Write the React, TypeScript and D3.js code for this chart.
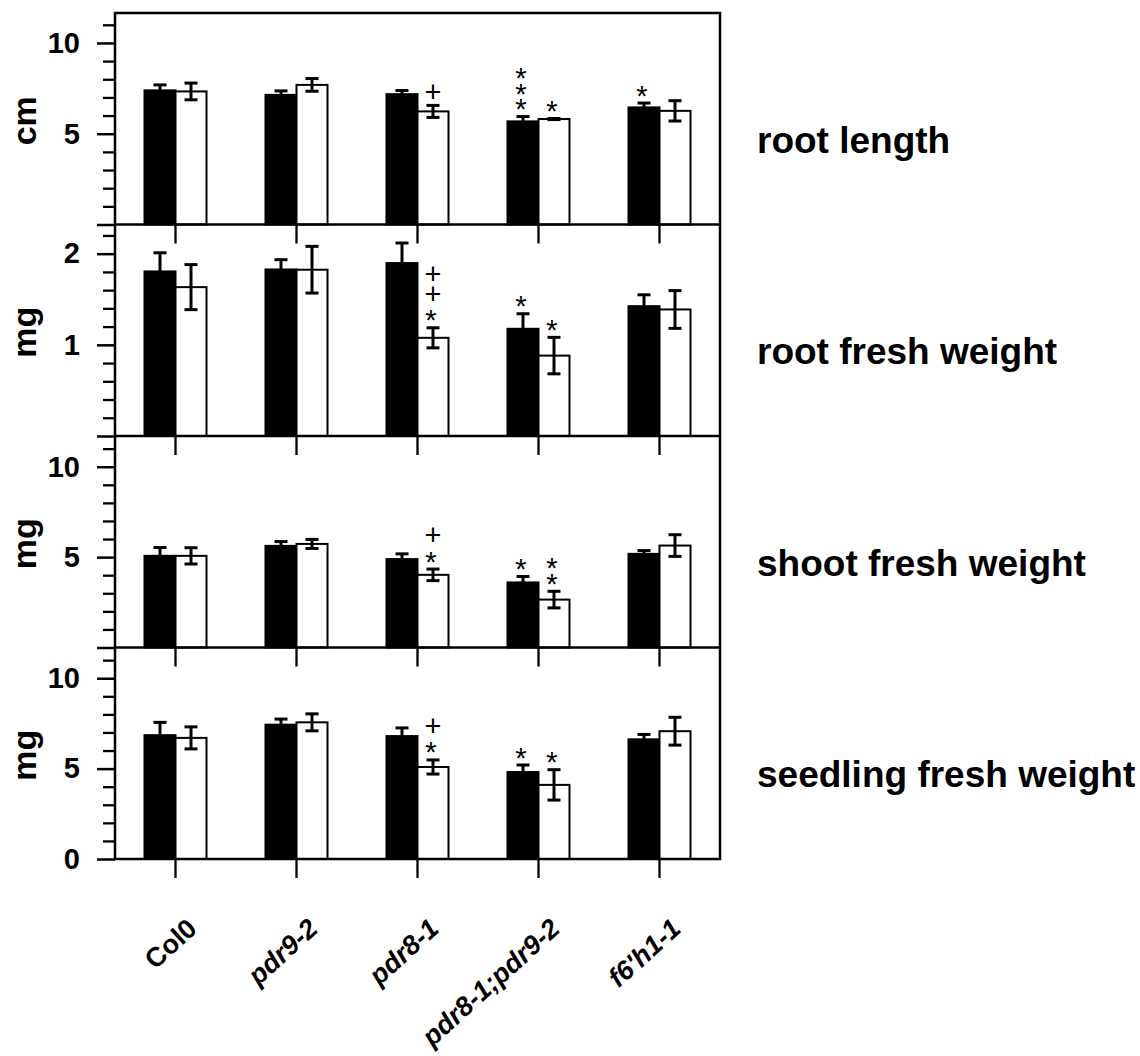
import React, { useEffect, useRef } from 'react';
import * as d3 from 'd3';

// genotypes along the x axis
const groups = ['Col0', 'pdr9-2', 'pdr8-1', 'pdr8-1;pdr9-2', "f6'h1-1"];

const panelTitles = ['root length', 'root fresh weight', 'shoot fresh weight', 'seedling fresh weight'];
const panelUnits = ['cm', 'mg', 'mg', 'mg'];
const panelMax = [11.65, 2.32, 11.7, 11.7];
const majorTicks = [[0, 5, 10], [0, 1, 2], [0, 5, 10], [0, 5, 10]];
const minorTicks = [
    [1, 2, 3, 4, 6, 7, 8, 9, 11],
    [0.2, 0.4, 0.6, 0.8, 1.2, 1.4, 1.6, 1.8, 2.2],
    [1, 2, 3, 4, 6, 7, 8, 9, 11],
    [1, 2, 3, 4, 6, 7, 8, 9, 11],
];

// black = first condition, white = second condition
const rootLengthBlack = [7.39, 7.14, 7.18, 5.68, 6.45];
const rootLengthBlackErr = [0.3, 0.22, 0.2, 0.27, 0.24];
const rootLengthWhite = [7.33, 7.69, 6.23, 5.81, 6.26];
const rootLengthWhiteErr = [0.46, 0.35, 0.33, 0.03, 0.56];

const rootWeightBlack = [1.805, 1.827, 1.897, 1.176, 1.424];
const rootWeightBlackErr = [0.205, 0.107, 0.22, 0.165, 0.125];
const rootWeightWhite = [1.633, 1.824, 1.077, 0.882, 1.388];
const rootWeightWhiteErr = [0.247, 0.256, 0.11, 0.2, 0.207];

const shootWeightBlack = [5.07, 5.62, 4.89, 3.6, 5.18];
const shootWeightBlackErr = [0.46, 0.24, 0.29, 0.33, 0.18];
const shootWeightWhite = [5.07, 5.73, 4.02, 2.65, 5.64];
const shootWeightWhiteErr = [0.45, 0.25, 0.32, 0.46, 0.6];

const seedlingWeightBlack = [6.85, 7.43, 6.8, 4.81, 6.62];
const seedlingWeightBlackErr = [0.71, 0.31, 0.45, 0.39, 0.27];
const seedlingWeightWhite = [6.7, 7.56, 5.09, 4.1, 7.07];
const seedlingWeightWhiteErr = [0.61, 0.47, 0.39, 0.84, 0.77];

// significance marks, read top to bottom
const rootLengthMarksBlack = ['', '', '', '***', '*'];
const rootLengthMarksWhite = ['', '', '+', '*', ''];
const rootWeightMarksBlack = ['', '', '', '*', ''];
const rootWeightMarksWhite = ['', '', '++*', '*', ''];
const shootWeightMarksBlack = ['', '', '', '*', ''];
const shootWeightMarksWhite = ['', '', '+*', '**', ''];
const seedlingWeightMarksBlack = ['', '', '', '*', ''];
const seedlingWeightMarksWhite = ['', '', '+*', '*', ''];

const panels = [
    { black: rootLengthBlack, blackErr: rootLengthBlackErr, white: rootLengthWhite, whiteErr: rootLengthWhiteErr, marksBlack: rootLengthMarksBlack, marksWhite: rootLengthMarksWhite },
    { black: rootWeightBlack, blackErr: rootWeightBlackErr, white: rootWeightWhite, whiteErr: rootWeightWhiteErr, marksBlack: rootWeightMarksBlack, marksWhite: rootWeightMarksWhite },
    { black: shootWeightBlack, blackErr: shootWeightBlackErr, white: shootWeightWhite, whiteErr: shootWeightWhiteErr, marksBlack: shootWeightMarksBlack, marksWhite: shootWeightMarksWhite },
    { black: seedlingWeightBlack, blackErr: seedlingWeightBlackErr, white: seedlingWeightWhite, whiteErr: seedlingWeightWhiteErr, marksBlack: seedlingWeightMarksBlack, marksWhite: seedlingWeightMarksWhite },
];

const FONT = '"Liberation Sans", Arial, Helvetica, sans-serif';

export default function App() {
    const svgRef = useRef<SVGSVGElement | null>(null);

    useEffect(() => {
        if (!svgRef.current) return;
        const svg = d3.select(svgRef.current);
        svg.selectAll('*').remove();

        const left = 115;
        const right = 720;
        const top = 13;
        const panelH = 211.5;
        const bottom = top + panelH * panels.length;

        const x = d3.scaleBand<string>().domain(groups).range([left, right]).padding(0);
        const barsWidth = 62;
        const x1 = d3.scaleBand<string>().domain(['black', 'white']).range([0, barsWidth]);
        const barX = (g: string, s: string) => (x(g) as number) + (x.bandwidth() - barsWidth) / 2 + (x1(s) as number);

        const g = svg.append('g').style('font-family', FONT);

        // glyph metrics for the stacked marks (em units, Arial-like)
        const markFs = 29;
        const markAdv: Record<string, number> = { '*': 0.389, '+': 0.584 };
        const markMid: Record<string, number> = { '*': 0.57, '+': 0.35 };

        panels.forEach((p, pi) => {
            const y0 = top + panelH * pi;
            const y = d3.scaleLinear().domain([0, panelMax[pi]]).range([y0 + panelH, y0]);
            const pg = g.append('g');

            // minor ticks
            const minorAxis = d3.axisLeft(y).tickValues(minorTicks[pi]).tickSize(12).tickFormat(() => '');
            const minorG = pg.append('g').attr('transform', `translate(${left},0)`).call(minorAxis);
            minorG.select('.domain').remove();
            minorG.selectAll('text').remove();
            minorG.selectAll('line').attr('stroke', '#000').attr('stroke-width', 2.3);

            // major ticks
            const majorAxis = d3.axisLeft(y).tickValues(majorTicks[pi]).tickSize(18).tickPadding(17)
                .tickFormat((d: any) => (d === 0 && pi < panels.length - 1 ? '' : String(d)));
            const majorG = pg.append('g').attr('transform', `translate(${left},0)`).call(majorAxis);
            majorG.select('.domain').remove();
            majorG.selectAll('line').attr('stroke', '#000').attr('stroke-width', 2.5);
            majorG.selectAll('text')
                .attr('fill', '#000')
                .style('font-family', FONT)
                .style('font-size', '29px')
                .style('font-weight', 'bold');

            // bottom x ticks
            const xAxis = d3.axisBottom(x).tickSize(19).tickFormat(() => '');
            const xg = pg.append('g').attr('transform', `translate(0,${y0 + panelH})`).call(xAxis);
            xg.select('.domain').remove();
            xg.selectAll('text').remove();
            xg.selectAll('line').attr('stroke', '#000').attr('stroke-width', 2.3);

            // bars
            const series = [
                { key: 'black', vals: p.black, errs: p.blackErr, marks: p.marksBlack, fill: '#000' },
                { key: 'white', vals: p.white, errs: p.whiteErr, marks: p.marksWhite, fill: '#fff' },
            ];
            const bw = x1.bandwidth();
            series.forEach((s) => {
                pg.selectAll(`.bar-${s.key}`)
                    .data(groups)
                    .enter()
                    .append('rect')
                    .attr('x', (d) => barX(d, s.key))
                    .attr('y', (d, i) => y(s.vals[i]))
                    .attr('width', bw)
                    .attr('height', (d, i) => y(0) - y(s.vals[i]))
                    .attr('fill', s.fill)
                    .attr('stroke', '#000')
                    .attr('stroke-width', 2);

                groups.forEach((grp, i) => {
                    // error bars
                    const cx = barX(grp, s.key) + bw / 2;
                    const hi = y(s.vals[i] + s.errs[i]);
                    const lo = y(s.vals[i] - s.errs[i]);
                    pg.append('line').attr('x1', cx).attr('x2', cx).attr('y1', hi).attr('y2', lo)
                        .attr('stroke', '#000').attr('stroke-width', 3);
                    [hi, lo].forEach((yy) => {
                        pg.append('line').attr('x1', cx - 6.5).attr('x2', cx + 6.5).attr('y1', yy).attr('y2', yy)
                            .attr('stroke', '#000').attr('stroke-width', 3);
                    });

                    // significance marks: one text per stack, glyphs placed in a column
                    if (!s.marks[i]) return;
                    const chars = s.marks[i].split('');
                    const centers: number[] = new Array(chars.length);
                    let cy = hi - 14;
                    for (let k = chars.length - 1; k >= 0; k--) {
                        if (k < chars.length - 1) {
                            cy -= chars[k] === '+' || chars[k + 1] === '+' ? 20 : 15.5;
                        }
                        centers[k] = cy;
                    }
                    // text is rotated 90deg, each glyph rotated back upright
                    const localX = chars.map((ch, k) => centers[k] + markMid[ch] * markFs);
                    const localY = chars.map((ch) => -(cx - (ch === '*' ? 2 : 0) - (markAdv[ch] * markFs) / 2));
                    pg.append('text')
                        .attr('transform', 'rotate(90)')
                        .attr('x', localX.join(' '))
                        .attr('y', localY.join(' '))
                        .attr('rotate', chars.map(() => -90).join(' '))
                        .style('font-size', `${markFs}px`)
                        .attr('fill', '#000')
                        .text(s.marks[i]);
                });
            });

            // unit label
            pg.append('text')
                .attr('transform', `translate(36,${y0 + panelH / 2 + 2}) rotate(-90)`)
                .attr('text-anchor', 'middle')
                .style('font-size', '34px')
                .style('font-weight', 'bold')
                .attr('fill', '#000')
                .text(panelUnits[pi]);

            // panel title
            pg.append('text')
                .attr('x', 757)
                .attr('y', y0 + panelH / 2 + 34)
                .style('font-size', '37px')
                .style('font-weight', 'bold')
                .attr('fill', '#000')
                .text(panelTitles[pi]);

            // separator line
            if (pi > 0) {
                pg.append('line').attr('x1', left).attr('x2', right).attr('y1', y0).attr('y2', y0)
                    .attr('stroke', '#000').attr('stroke-width', 2.5);
            }
        });

        g.append('rect')
            .attr('x', left).attr('y', top)
            .attr('width', right - left).attr('height', bottom - top)
            .attr('fill', 'none').attr('stroke', '#000').attr('stroke-width', 2.5);

        // rotated genotype labels
        groups.forEach((grp) => {
            const cx = (x(grp) as number) + x.bandwidth() / 2;
            g.append('text')
                .attr('transform', `translate(${cx + 23},${bottom + 72}) rotate(-42)`)
                .attr('text-anchor', 'end')
                .style('font-size', '27px')
                .style('font-weight', 'bold')
                .style('font-style', grp === 'Col0' ? 'normal' : 'italic')
                .attr('fill', '#000')
                .text(grp);
        });
    }, []);

    return (
        <svg
            ref={svgRef}
            width={1140}
            height={1056}
            style={{ position: 'absolute', left: 0, top: 0, background: '#fff' }}
        />
    );
}
